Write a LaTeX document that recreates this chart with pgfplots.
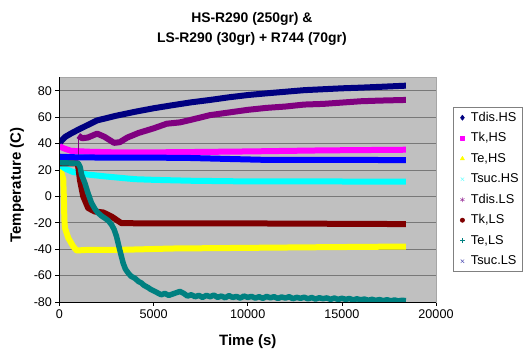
\documentclass[border=0pt]{standalone}
\usepackage{fontspec}
\setmainfont{Liberation Sans}
\usepackage{pgfplots}
\pgfplotsset{compat=1.18}
\definecolor{cNavy}{RGB}{0,0,128}
\definecolor{cMag}{RGB}{255,0,255}
\definecolor{cYel}{RGB}{255,255,0}
\definecolor{cCyan}{RGB}{0,255,255}
\definecolor{cPur}{RGB}{128,0,128}
\definecolor{cDRed}{RGB}{128,0,0}
\definecolor{cTeal}{RGB}{0,128,128}
\definecolor{cBlue}{RGB}{0,0,255}
\definecolor{cBg}{RGB}{192,192,192}
\definecolor{cGrid}{RGB}{120,120,120}
\begin{document}
\begin{tikzpicture}
\path[use as bounding box] (0,0) rectangle (525pt,350pt);
\begin{axis}[
  at={(59.5pt,48pt)}, anchor=south west,
  width=376.5pt, height=224.5pt, scale only axis,
  xmin=0, xmax=20000, ymin=-80, ymax=90,
  ytick={-80,-60,...,80}, xtick={0,5000,...,20000},
  scaled x ticks=false,
  /pgf/number format/assume math mode=true,
  /pgf/number format/1000 sep={},
  ticklabel style={font=\fontsize{12.6}{14}\selectfont},
  tick align=outside, tick pos=left,
  major tick length=4pt,
  tick style={black, line width=0.6pt},
  axis background/.style={fill=cBg},
  axis line style={draw=gray!70},
  ymajorgrids, grid style={draw=cGrid, line width=0.8pt},
  title={HS-R290 (250gr) \&\\LS-R290 (30gr) + R744 (70gr)},
  title style={at={(axis description cs:0.511,1.19)}, anchor=center, align=center, font=\bfseries\fontsize{13.9}{19.5}\selectfont},
  xlabel={Time (s)},
  xlabel style={at={(axis description cs:0.5,-0.176)}, anchor=center, font=\bfseries\fontsize{15}{17}\selectfont},
  ylabel={Temperature (C)},
  ylabel style={at={(axis description cs:-0.1129,0.521)}, anchor=center, font=\bfseries\fontsize{15}{17}\selectfont},
  legend style={at={(1.0444,0.8686)}, anchor=north west, draw=gray, fill=white,
    font=\fontsize{12.8}{15}\selectfont, row sep=5.5pt, inner sep=3pt,
    nodes={inner sep=1pt, text height=10pt, text depth=3pt}},
  legend cell align=left,
  legend image code/.code={\path[draw=none,fill=none] (0pt,-2pt) rectangle (14pt,2pt); \draw[#1] plot coordinates {(6.5pt,0pt)};},
  every axis plot/.append style={line width=6pt, line join=round},
  after end axis/.code={\draw[black, line width=0.6pt] (rel axis cs:0,1) -- (rel axis cs:0,0) -- (rel axis cs:1,0);},
]
% Tdis.HS
\addplot[cNavy, forget plot] coordinates {(0,40)(100,42)(300,45)(600,47.5)(1000,50.5)(1500,54)(2000,57.5)(3000,61)(4000,64)(5000,66.7)(6000,69)(7000,71.2)(8000,73)(9000,75)(10000,76.7)(11000,78)(12000,79.2)(13000,80.4)(14000,81.1)(15000,81.8)(16000,82.3)(17000,82.9)(18400,83.8)};
% Tk,HS
\addplot[cMag, forget plot] coordinates {(0,38)(200,36.5)(600,34.5)(1500,33.8)(3000,33.3)(6000,33.4)(10000,34)(14000,34.8)(18400,35.3)};
% Te,HS
\addplot[cYel, forget plot] coordinates {(0,22)(100,18)(200,13)(230,0)(260,-18)(290,-24)(470,-31.6)(730,-38)(910,-41)(1525,-40.5)(3290,-40.5)(6000,-39.5)(10000,-39)(14000,-38.5)(18400,-38)};
% Tsuc.HS
\addplot[cCyan, forget plot] coordinates {(0,24)(300,21)(700,18.5)(1500,16.5)(2500,15)(4000,13)(5000,12.5)(7000,11.8)(10000,11.3)(18400,11.2)};
% Tdis.LS
\addplot[cPur, line width=1.2pt, forget plot] coordinates {(1000,30)(1000,46)};
\addplot[cPur, forget plot] coordinates {(1000,46)(1200,44)(1500,44.5)(2000,47.5)(2400,45)(2900,40.5)(3200,41)(3600,44.5)(4200,48)(5000,51.5)(5700,55)(6400,56)(7000,58)(8000,61.5)(9000,63.5)(10000,65.5)(11000,67)(12000,68)(13000,69.5)(14000,70)(15000,71)(16000,72)(17000,72.5)(18400,73)};
% Tk,LS
\addplot[cDRed, forget plot] coordinates {(0,25)(950,25)(1000,22)(1085,12.5)(1260,0)(1525,-8.9)(1880,-11.5)(2320,-12.2)(2765,-15.3)(3290,-20.3)(5000,-20.5)(10000,-20.5)(18400,-21)};
% Te,LS
\addplot[cTeal, line width=5.5pt, forget plot] coordinates {(0,25.5)(1000,25)(1100,22)(1175,16.3)(1350,10)(1500,3)(1700,-5)(1900,-10)(2060,-12.7)(2250,-15)(2410,-16.5)(2600,-18.5)(2765,-21.5)(2900,-25)(3030,-30.4)(3200,-40.5)(3380,-50.5)(3500,-55)(3645,-58)(3800,-60.5)(4000,-62)(4200,-64.5)(4350,-65.6)(4500,-67.5)(4700,-69)(4850,-70.5)
(5000,-71.5)(5200,-73)(5400,-74.5)(5600,-73.5)(5800,-75)(6000,-74)(6200,-73)(6400,-72)(6600,-73.5)(6800,-75.5)(7000,-74.5)(7200,-76)(7400,-75)(7600,-76.5)(7800,-75)(8000,-76)(8200,-74.8)(8400,-76.5)(8600,-75.5)(8800,-76.8)(9000,-75.2)(9200,-76.5)(9400,-75.8)(9600,-77)(9800,-75.5)(10000,-76.5)(10200,-75.8)(10400,-77)(10600,-76)(10800,-77.2)(11000,-75.8)(11200,-76.8)(11400,-76)(11600,-77.3)(11800,-76.2)(12000,-77)(12200,-76)(12400,-77.5)(12600,-76.5)(12800,-77.2)(13000,-76.4)(13200,-77.6)(13400,-76.6)(13600,-77.8)(13800,-76.8)(14000,-77.5)(14200,-76.9)(14400,-78)(14600,-77)(14800,-78.1)(15000,-77.2)(15200,-78)(15400,-77.4)(15600,-78.4)(15800,-77.6)(16000,-78.3)(16200,-77.8)(16400,-78.7)(16600,-78)(16800,-78.8)(17000,-78.2)(17200,-79)(17400,-78.3)(17600,-79.1)(17800,-78.5)(18000,-79.2)(18200,-78.7)(18400,-79)};
% Tsuc.LS
\addplot[cBlue, forget plot] coordinates {(0,30)(1000,29.5)(3000,29.3)(6500,29.2)(9000,28.3)(11000,27.6)(18400,27.5)};

\addlegendimage{only marks, line width=0.5pt, mark=diamond*, mark size=2.6pt, cNavy}
\addlegendentry{Tdis.HS}
\addlegendimage{only marks, line width=0.5pt, mark=square*, mark size=2.2pt, cMag}
\addlegendentry{Tk,HS}
\addlegendimage{only marks, line width=0.5pt, mark=triangle*, mark size=2.4pt, cYel}
\addlegendentry{Te,HS}
\addlegendimage{only marks, line width=0.5pt, mark=x, mark size=2.4pt, cCyan!60!white}
\addlegendentry{Tsuc.HS}
\addlegendimage{only marks, line width=0.5pt, mark=asterisk, mark size=2.4pt, cPur!80!white}
\addlegendentry{Tdis.LS}
\addlegendimage{only marks, line width=0.5pt, mark=*, mark size=2.2pt, cDRed}
\addlegendentry{Tk,LS}
\addlegendimage{only marks, line width=0.5pt, mark=+, mark size=2.4pt, cTeal}
\addlegendentry{Te,LS}
\addlegendimage{only marks, line width=0.5pt, mark=x, mark size=2.4pt, cBlue!40!gray}
\addlegendentry{Tsuc.LS}
\end{axis}
\end{tikzpicture}
\end{document}
